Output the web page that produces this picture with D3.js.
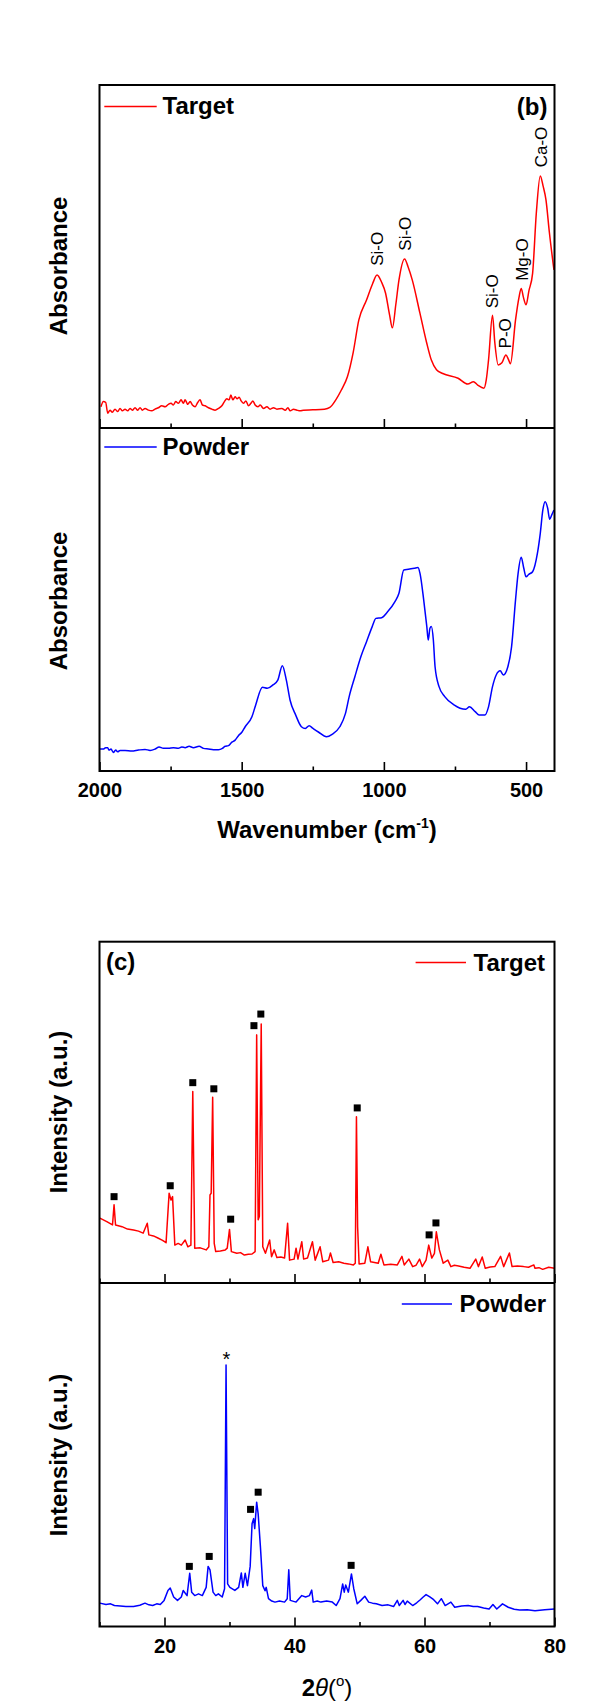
<!DOCTYPE html>
<html><head><meta charset="utf-8">
<script src="https://cdn.jsdelivr.net/npm/d3@7"></script>
<style>
body{margin:0;background:#fff}
svg{display:block}
text{font-family:"Liberation Sans",Arial,Helvetica,sans-serif}
</style>
</head><body>
<svg id="c" width="599" height="1702"></svg>
<script>
// ---------------- DATA ----------------
// FTIR (wavenumber cm-1, absorbance a.u.)
const ftirTarget = [
[1994.7,6.2],[1986.6,7.7],[1978.3,7.5],[1971.1,4.3],[1963.0,5.2],[1954.9,4.6],[1945.4,5.5],[1935.9,4.8],[1927.8,5.7],[1919.7,5.0],
[1910.2,5.5],[1900.7,5.0],[1892.6,5.7],[1884.5,5.2],[1875.0,5.9],[1865.5,5.2],[1857.4,5.9],[1849.3,5.2],[1839.8,5.7],[1828.0,5.2],
[1816.2,5.0],[1804.6,5.5],[1793.0,5.9],[1781.1,6.5],[1769.4,6.2],[1757.8,6.9],[1748.3,7.2],[1740.2,6.7],[1731.9,7.7],[1722.6,7.2],
[1713.1,8.2],[1705.0,7.2],[1699.0,8.2],[1689.5,6.9],[1681.4,7.7],[1673.3,6.7],[1663.8,6.2],[1654.3,7.5],[1646.2,8.2],[1638.1,6.7],
[1628.6,6.5],[1617.0,5.9],[1605.0,5.5],[1593.4,5.2],[1581.8,5.7],[1569.8,6.5],[1560.7,7.7],[1552.2,8.5],[1544.1,8.2],[1538.1,9.6],
[1531.1,8.2],[1523.0,9.1],[1516.0,8.5],[1508.9,9.0],[1501.9,7.9],[1493.8,7.2],[1485.3,7.9],[1476.2,6.5],[1467.7,7.2],[1460.7,7.9],
[1452.6,6.7],[1443.1,6.2],[1435.0,6.7],[1423.3,5.7],[1411.4,6.2],[1399.8,5.5],[1388.2,5.9],[1376.2,5.5],[1358.6,5.7],[1346.9,5.2],
[1337.5,5.9],[1329.4,5.0],[1317.7,5.5],[1305.8,5.2],[1294.2,5.0],[1282.5,5.2],[1250,5.3],[1209,5.5],[1190,6.0],[1169,8.2],
[1150,11.0],[1128,15.0],[1108,22.0],[1088,31.5],[1061,37.3],[1040,42.0],[1024,44.6],[1008,42.5],[994,39.3],[980,33.0],
[970,29.2],[958,36.0],[947,43.1],[927,49.3],[915,47.0],[900,43.1],[873,33.4],[850,25.0],[833,19.8],[815,17.0],
[793,15.9],[739,14.5],[705,12.8],[685,13.5],[670,12.5],[648,11.6],[640,14.0],[632,19.8],[618,32.9],[610,25.0],
[598,18.4],[585,19.0],[571,21.3],[562,20.0],[555,18.7],[537,31.5],[525,38.0],[517,40.7],[509,38.0],[500,35.9],
[490,40.0],[477,45.1],[464,62.6],[450,73.5],[440,70.5],[430,66.5],[418,57.0],[402,46.1]
];
const ftirPowder = [
[1998.2,6.4],[1986.6,6.4],[1978.3,6.8],[1971.1,6.8],[1966.6,6.1],[1959.5,6.4],[1951.4,5.4],[1943.0,6.1],[1935.9,5.6],[1927.8,6.0],
[1910.2,6.0],[1886.6,5.8],[1863.1,6.1],[1839.8,6.3],[1822.2,6.0],[1804.6,6.4],[1790.5,7.0],[1775.4,6.6],[1757.8,6.6],[1740.2,6.8],
[1722.6,6.6],[1710.6,7.0],[1699.0,6.8],[1684.9,7.2],[1669.8,6.8],[1649.7,7.2],[1634.6,6.6],[1617.0,6.4],[1599.4,6.2],[1581.8,6.2],
[1567.7,6.6],[1558.2,7.2],[1546.6,7.4],[1534.6,8.4],[1523.0,9.0],[1511.4,10.3],[1499.4,11.3],[1487.8,12.9],[1464,15.8],[1451,19.2],
[1427,24.4],[1410,24.1],[1390,25.1],[1373,26.5],[1357,30.7],[1343,26.5],[1330,20.7],[1310,16.3],[1290,12.9],[1276,12.4],
[1263,13.2],[1249,12.4],[1229,11.3],[1202,10.0],[1182,10.7],[1155,12.9],[1135,16.8],[1122,21.7],[1102,27.5],[1081,33.3],
[1061,37.7],[1041,42.1],[1028,44.5],[1008,44.7],[987,46.4],[961,49.4],[947,51.8],[930,58.6],[914,58.8],[893,59.1],
[880,59.3],[873,57.6],[860,49.9],[849,42.1],[844,38.2],[838,41.6],[833,42.1],[826,38.2],[820,30.4],[806,24.6],
[786,21.7],[752,19.2],[732,18.3],[712,18.0],[699,18.7],[679,17.3],[665,16.3],[645,16.3],[632,18.7],[618,24.6],
[605,28.0],[591,29.2],[580,28.0],[564,30.4],[551,36.2],[537,49.9],[528,57.6],[517,62.3],[508,59.1],[500,56.6],
[491,57.3],[477,58.1],[460,63.5],[450,69.3],[441,76.1],[433,78.5],[424,76.6],[417,73.4],[410,74.6],[402,76.1]
];
const ftirBands = [
["Si-O",1024,47.3],["Si-O",924,51.7],["Si-O",618,34.9],["P-O",575,23.2],["Mg-O",513,42.9],["Ca-O",446,76.0]
];
const ftirMajorTicks = [2000,1500,1000,500];
const ftirMinorTicks = [1750,1250,750];

// XRD (2theta deg, intensity a.u.)
const xrdTarget = [
[10.06,19.0],[11.12,18.0],[12.0,17.0],[12.24,22.9],[12.47,17.0],[13.47,16.5],[14.3,15.8],[15.24,15.5],[16.0,15.2],[16.71,14.6],
[17.35,17.5],[17.59,14.1],[18.3,13.8],[19.06,13.1],[19.7,12.5],[20.24,11.8],[20.71,26.3],[21.0,24.3],[21.24,25.3],[21.59,11.1],
[22.1,11.6],[22.59,11.1],[23.18,12.6],[23.59,10.6],[24.06,11.1],[24.35,56.1],[24.65,10.2],[25.5,10.3],[26.41,9.7],[26.82,10.6],
[27.0,25.8],[27.18,26.3],[27.41,54.4],[27.65,11.6],[27.88,9.2],[28.6,9.4],[29.35,9.7],[29.65,10.2],[30.0,15.7],[30.29,9.2],
[31.12,8.7],[31.7,8.9],[32.29,8.2],[32.9,8.4],[33.47,8.5],[33.94,9.2],[34.18,72.7],[34.41,18.5],[34.59,19.5],[34.88,75.9],
[35.12,10.6],[35.53,8.7],[36.18,12.6],[36.47,7.7],[36.88,9.7],[37.29,7.5],[37.9,7.6],[38.47,7.3],[38.94,17.5],[39.24,6.7],
[39.94,7.0],[40.24,10.2],[40.53,7.0],[41.12,12.1],[41.41,7.0],[42.0,7.3],[42.76,12.1],[43.18,6.7],[43.94,10.6],[44.35,6.2],
[45.24,6.7],[45.53,8.8],[45.94,6.0],[46.8,6.2],[47.59,5.8],[48.3,5.6],[49.06,5.3],[49.35,5.8],[49.53,48.7],[49.71,16.5],
[49.94,5.6],[50.82,5.8],[51.29,10.6],[51.71,6.2],[52.3,6.0],[52.88,5.8],[53.29,8.4],[53.76,5.3],[54.8,5.5],[55.82,5.3],
[56.53,7.8],[56.88,5.3],[57.59,7.0],[58.18,4.8],[58.7,5.2],[59.24,7.0],[59.65,4.8],[60.24,6.7],[60.65,11.1],[61.12,7.3],
[61.53,8.7],[61.82,15.0],[62.29,9.7],[62.88,5.8],[63.59,6.7],[64.06,4.8],[64.6,5.2],[65.24,5.0],[66.1,4.6],[67.0,4.3],
[67.88,7.0],[68.29,4.8],[68.88,7.6],[69.35,4.3],[70.1,4.7],[70.82,4.8],[71.71,7.8],[72.18,4.8],[73.06,8.8],[73.47,4.8],
[74.3,5.0],[75.24,4.8],[76.0,4.6],[76.82,5.3],[77.0,4.3],[77.6,4.5],[78.18,4.0],[79.1,4.6],[80.0,4.3]
];
const xrdPowder = [
[10.06,6.8],[11.0,6.4],[11.71,6.6],[12.29,6.1],[13.2,6.0],[14.06,5.8],[15.24,5.8],[16.2,6.2],[17.0,6.8],[17.6,6.3],
[18.18,6.1],[18.8,6.6],[19.35,6.4],[19.94,7.6],[20.53,10.5],[20.88,11.2],[21.41,8.6],[22.0,7.6],[22.59,8.6],[22.88,10.5],
[23.47,9.0],[23.88,15.5],[24.18,10.0],[24.65,9.0],[25.24,9.5],[25.82,9.0],[26.41,11.4],[26.71,17.5],[27.0,16.5],[27.47,10.0],
[27.88,9.0],[28.29,9.5],[28.88,8.6],[29.24,11.0],[29.47,76.1],[29.71,12.4],[30.06,11.4],[30.82,10.5],[31.41,11.4],[31.82,15.6],
[32.06,11.4],[32.41,15.5],[32.76,11.9],[33.18,17.5],[33.47,29.9],[33.71,31.4],[33.88,28.5],[34.18,36.2],[34.41,32.8],[34.76,23.1],
[35.12,11.9],[35.47,10.4],[35.65,11.4],[36.0,8.1],[36.5,7.4],[37.0,7.1],[37.7,7.4],[38.47,7.1],[38.88,8.1],[39.12,16.5],
[39.35,7.6],[40.24,7.1],[41.12,9.0],[41.71,8.6],[42.29,9.0],[42.65,10.6],[42.88,7.1],[43.5,7.4],[44.06,7.1],[44.94,7.4],
[45.82,7.1],[46.41,6.1],[47.0,8.1],[47.41,12.4],[47.65,10.0],[47.88,12.1],[48.29,10.0],[48.76,15.3],[49.12,11.0],[49.65,6.6],
[50.2,7.6],[50.82,8.8],[51.41,7.1],[52.0,6.8],[52.59,6.6],[53.47,6.1],[54.4,6.3],[55.24,5.8],[55.82,7.6],[56.12,6.1],
[56.71,7.6],[57.0,6.4],[57.35,7.4],[58.18,6.1],[58.8,6.9],[59.35,7.8],[59.8,8.6],[60.24,9.3],[60.82,8.6],[61.41,7.8],
[62.0,6.6],[62.59,8.1],[63.18,6.1],[64.06,7.1],[64.65,5.6],[65.7,6.0],[66.71,6.1],[67.5,5.8],[68.18,5.8],[69.1,5.4],
[69.94,5.1],[70.53,6.4],[71.12,5.1],[72.0,6.6],[72.88,5.6],[73.8,5.0],[74.65,4.8],[75.8,4.9],[77.0,4.6],[78.5,4.9],[80.0,5.1]
];
const xrdTargetMarks = [
[12.24,25.3],[20.88,28.5],[24.35,58.7],[27.59,56.9],[30.18,18.7],[33.76,75.4],[34.82,78.8],[49.65,51.3],[60.71,14.1],[61.76,17.6]
];
const xrdPowderMarks = [[23.82,17.5],[26.88,20.4],[33.24,34.1],[34.41,39.1],[48.71,17.8]];
const xrdStar = [[29.53,79.0]];
const xrdMajorTicks = [20,40,60,80];
const xrdMinorTicks = [10,30,50,70];

// ---------------- DRAWING ----------------
const svg = d3.select("#c");
const L = 99.5, R = 554.5;
const RED = "#ff0000", BLUE = "#0000ff";

function panelY(top, bottom){ return d3.scaleLinear().domain([0,100]).range([bottom, top]); }

function ticks(x, y0, major, minor, labels){
  const gMaj = svg.append("g").attr("transform",`translate(0,${y0})`)
    .call(d3.axisBottom(x).tickValues(major).tickSizeInner(-9).tickSizeOuter(0).tickPadding(12)
      .tickFormat(labels ? d3.format("d") : () => ""));
  const gMin = svg.append("g").attr("transform",`translate(0,${y0})`)
    .call(d3.axisBottom(x).tickValues(minor).tickSizeInner(-4.5).tickSizeOuter(0).tickFormat(() => ""));
  [gMaj,gMin].forEach(g => {
    g.select(".domain").remove();
    g.selectAll("line").attr("stroke","#000").attr("stroke-width",1.6);
  });
  gMaj.selectAll("text").attr("font-size",20).attr("font-weight","bold").attr("fill","#000")
    .attr("font-family",'"Liberation Sans",Arial,sans-serif');
}

function curve(x, y, data, color, c){
  svg.append("path").datum(data)
    .attr("fill","none").attr("stroke",color).attr("stroke-width",1.5).attr("stroke-linejoin","round")
    .attr("d", d3.line().x(d=>x(d[0])).y(d=>y(d[1])).curve(c));
}

function legend(x1, x2, ly, tx, ty, color, label){
  svg.append("line").attr("x1",x1).attr("x2",x2).attr("y1",ly).attr("y2",ly)
    .attr("stroke",color).attr("stroke-width",1.6);
  svg.append("text").attr("x",tx).attr("y",ty).attr("font-size",24).attr("font-weight","bold").text(label);
}

function ylabel(cx, cy, label){
  svg.append("text").attr("transform",`translate(${cx},${cy}) rotate(-90)`)
    .attr("text-anchor","middle").attr("dy","0.35em")
    .attr("font-size",24).attr("font-weight","bold").text(label);
}

function frame(top, mid, bottom){
  svg.append("rect").attr("x",L).attr("y",top).attr("width",R-L).attr("height",bottom-top)
    .attr("fill","none").attr("stroke","#000").attr("stroke-width",2);
  svg.append("line").attr("x1",L).attr("x2",R).attr("y1",mid).attr("y2",mid)
    .attr("stroke","#000").attr("stroke-width",2);
}

// ---- FTIR (b) ----
const fTop = 85, fMid = 428, fBot = 771;
const xF = d3.scaleLinear().domain([2000,400]).range([L,R]);
const yF1 = panelY(fTop, fMid), yF2 = panelY(fMid, fBot);
const clipF = svg.append("clipPath").attr("id","clipF").append("rect").attr("x",L).attr("y",fTop).attr("width",R-L).attr("height",fBot-fTop);

curve(xF, yF1, ftirTarget, RED, d3.curveMonotoneX);
curve(xF, yF2, ftirPowder, BLUE, d3.curveMonotoneX);
ticks(xF, fMid, ftirMajorTicks, ftirMinorTicks, false);
ticks(xF, fBot, ftirMajorTicks, ftirMinorTicks, true);
frame(fTop, fMid, fBot);

ftirBands.forEach(b => {
  svg.append("text").attr("transform",`translate(${xF(b[1])},${yF1(b[2])}) rotate(-90)`)
    .attr("dy","0.35em").attr("font-size",17).attr("fill","#000").text(b[0]);
});
legend(104.3, 156.7, 106.5, 162.5, 114, RED, "Target");
legend(104.3, 156.7, 447, 162.5, 455, BLUE, "Powder");
svg.append("text").attr("x",547.5).attr("y",115).attr("text-anchor","end")
  .attr("font-size",24).attr("font-weight","bold").text("(b)");
ylabel(58.5, 266, "Absorbance");
ylabel(58.5, 601, "Absorbance");
const tF = svg.append("text").attr("x",(L+R)/2).attr("y",838).attr("text-anchor","middle")
  .attr("font-size",24).attr("font-weight","bold");
tF.append("tspan").text("Wavenumber (cm");
tF.append("tspan").attr("font-size",14).attr("dy",-10).text("-1");
tF.append("tspan").attr("dy",10).text(")");

// ---- XRD (c) ----
const xTop = 941.7, xMid = 1283, xBot = 1626.5;
const xX = d3.scaleLinear().domain([10,80]).range([L,R]);
const yX1 = panelY(xTop, xMid), yX2 = panelY(xMid, xBot);

curve(xX, yX1, xrdTarget, RED, d3.curveLinear);
curve(xX, yX2, xrdPowder, BLUE, d3.curveLinear);
ticks(xX, xMid, xrdMajorTicks, xrdMinorTicks, false);
ticks(xX, xBot, xrdMajorTicks, xrdMinorTicks, true);
frame(xTop, xMid, xBot);

const S = 7;
svg.append("g").selectAll("rect").data(xrdTargetMarks).join("rect")
  .attr("x",d=>xX(d[0])-S/2).attr("y",d=>yX1(d[1])-S/2).attr("width",S).attr("height",S).attr("fill","#000");
svg.append("g").selectAll("rect").data(xrdPowderMarks).join("rect")
  .attr("x",d=>xX(d[0])-S/2).attr("y",d=>yX2(d[1])-S/2).attr("width",S).attr("height",S).attr("fill","#000");
svg.append("g").selectAll("text").data(xrdStar).join("text")
  .attr("x",d=>xX(d[0])).attr("y",d=>yX2(d[1])+11).attr("text-anchor","middle")
  .attr("font-size",20).text("*");

svg.append("text").attr("x",106).attr("y",970).attr("font-size",24).attr("font-weight","bold").text("(c)");
legend(415.6, 466, 962.5, 473.5, 970.5, RED, "Target");
legend(401.8, 452, 1304, 459.5, 1312, BLUE, "Powder");
ylabel(58.5, 1112, "Intensity (a.u.)");
ylabel(58.5, 1455, "Intensity (a.u.)");
const tX = svg.append("text").attr("x",(L+R)/2).attr("y",1696).attr("text-anchor","middle")
  .attr("font-size",24).attr("font-weight","bold");
tX.append("tspan").text("2");
tX.append("tspan").attr("font-style","italic").attr("font-weight","normal").text("\u03B8");
tX.append("tspan").attr("font-weight","normal").text("(");
tX.append("tspan").attr("font-weight","normal").attr("font-size",15).attr("dy",-10).text("o");
tX.append("tspan").attr("font-weight","normal").attr("dy",10).text(")");
</script>
</body></html>
